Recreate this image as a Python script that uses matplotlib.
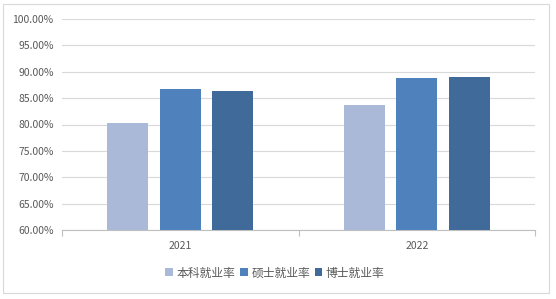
import matplotlib
matplotlib.use("Agg")
import matplotlib.pyplot as plt
from matplotlib.patches import Rectangle
import numpy as np

plt.rcParams['font.family'] = ['Noto Sans CJK SC', 'DejaVu Sans']

categories = ["2021", "2022"]
series_names = ["本科就业率", "硕士就业率", "博士就业率"]
bachelor = [80.3, 83.7]
master = [86.7, 88.8]
phd = [86.35, 89.0]
yticks = [60, 65, 70, 75, 80, 85, 90, 95, 100]
colors = ["#AAB9D7", "#4F81BD", "#3F6A9A"]

W, H = 556, 299
fig = plt.figure(figsize=(W / 100, H / 100), dpi=100)
fig.patch.set_facecolor("white")
fig.patches.append(Rectangle((3 / W, 1 - 293 / H), 546 / W, 289 / H, transform=fig.transFigure,
                             fill=False, edgecolor="#D9D9D9", linewidth=0.8))

ax = fig.add_axes([62 / W, 1 - 230 / H, (535 - 62) / W, (230 - 19) / H])
x = np.arange(len(categories))
width = 0.173
step = 0.222
for i, (vals, name) in enumerate(zip([bachelor, master, phd], series_names)):
    ax.bar(x + (i - 1) * step, [v - 60 for v in vals], width, bottom=60, color=colors[i], label=name, zorder=3)

ax.set_xlim(-0.5, 1.5)
ax.set_ylim(60, 100)
ax.set_yticks(yticks)
ax.set_yticklabels([f"{t:.2f}%" for t in yticks], fontsize=7.5, color="#595959")
ax.yaxis.grid(True, color="#D9D9D9", linewidth=0.8, zorder=0)
ax.tick_params(axis="y", length=0, pad=6)
ax.set_xticks(x)
ax.set_xticklabels(categories, fontsize=7.5, color="#595959")
ax.tick_params(axis="x", length=0, pad=8)
ax.set_xticks([-0.5, 0.5, 1.5], minor=True)
ax.tick_params(axis="x", which="minor", length=4, color="#BFBFBF", width=0.8)
for s in ["top", "right", "left"]:
    ax.spines[s].set_visible(False)
ax.spines["bottom"].set_color("#BFBFBF")
ax.spines["bottom"].set_linewidth(0.8)

leg = fig.legend(loc="center", bbox_to_anchor=(275 / W, 1 - 273 / H), ncol=3, frameon=False,
                 fontsize=8.5, handlelength=0.65, handleheight=0.65, handletextpad=0.3, columnspacing=0.4)
for t in leg.get_texts():
    t.set_color("#595959")

fig.savefig("out.png", dpi=100, facecolor="white")
